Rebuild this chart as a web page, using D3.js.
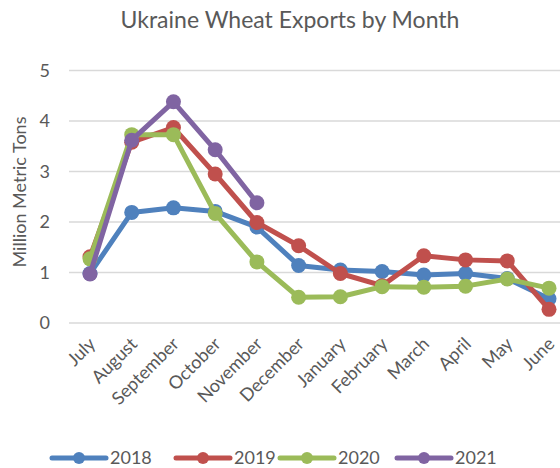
<!DOCTYPE html>
<html lang="en">
  <head>
    <meta charset="UTF-8" />
    <title>Ukraine Wheat Exports by Month</title>
    <style>
      body { margin: 0; background: #fff; }
      text { font-family: Lato, "Open Sans", sans-serif; fill: #595959; }
    </style>
  </head>
  <body>
    <div id="chart"></div>

    <script src="https://d3js.org/d3.v7.min.js"></script>
    <script>
      // data, million metric tons
      const months = ["July", "August", "September", "October", "November", "December",
        "January", "February", "March", "April", "May", "June"];
      const years = ["2018", "2019", "2020", "2021"];
      const v2018 = [0.98, 2.19, 2.28, 2.21, 1.9, 1.14, 1.05, 1.02, 0.95, 0.98, 0.88, 0.48];
      const v2019 = [1.31, 3.58, 3.87, 2.95, 1.99, 1.53, 0.98, 0.74, 1.33, 1.25, 1.23, 0.27];
      const v2020 = [1.27, 3.73, 3.73, 2.17, 1.21, 0.51, 0.52, 0.72, 0.71, 0.73, 0.87, 0.69];
      const v2021 = [0.97, 3.62, 4.38, 3.43, 2.38];
      const yTicks = [0, 1, 2, 3, 4, 5];
      const colors = ["#4f81bd", "#c0504d", "#9bbb59", "#8064a2"];

      const series = [v2018, v2019, v2020, v2021];

      const w = 560;
      const h = 468;

      const svg = d3
        .select("#chart")
        .append("svg")
        .attr("width", w)
        .attr("height", h);

      // x: points in the middle of 12 equal slots
      const xScale = d3
        .scalePoint()
        .domain(months)
        .range([90, 549]);

      const yScale = d3
        .scaleLinear()
        .domain([0, 5])
        .range([323, 70.5]);

      // title
      svg
        .append("text")
        .attr("x", 290)
        .attr("y", 28)
        .attr("text-anchor", "middle")
        .style("font-size", "23px")
        .text("Ukraine Wheat Exports by Month");

      // gridlines
      svg
        .append("g")
        .selectAll("line")
        .data(yTicks)
        .enter()
        .append("line")
        .attr("x1", 69)
        .attr("x2", w)
        .attr("y1", (d) => yScale(d))
        .attr("y2", (d) => yScale(d))
        .attr("stroke", "#d9d9d9")
        .attr("stroke-width", 1.5);

      // y axis labels
      svg
        .append("g")
        .attr("transform", "translate(50, 0)")
        .call(
          d3.axisLeft(yScale).tickValues(yTicks).tickFormat(d3.format("d")).tickSize(0).tickPadding(0)
        )
        .call((g) => g.select(".domain").remove())
        .selectAll("text")
        .style("font-size", "18px")
        .attr("fill", "#595959");

      // x axis labels
      svg
        .append("g")
        .attr("transform", "translate(0, 323)")
        .call(d3.axisBottom(xScale).tickSize(0))
        .call((g) => g.select(".domain").remove())
        .selectAll("text")
        .style("font-size", "18px")
        .attr("fill", "#595959")
        .attr("text-anchor", "end")
        .attr("dx", "0")
        .attr("dy", "0")
        .attr("transform", "translate(4, 20) rotate(-45)");

      // y axis title
      svg
        .append("text")
        .attr("transform", "translate(26, 192) rotate(-90)")
        .attr("text-anchor", "middle")
        .style("font-size", "18px")
        .text("Million Metric Tons");

      const line = d3
        .line()
        .x((d, i) => xScale(months[i]))
        .y((d) => yScale(d));

      series.forEach((vals, k) => {
        const g = svg.append("g");
        g.append("path")
          .datum(vals)
          .attr("d", line)
          .attr("fill", "none")
          .attr("stroke", colors[k])
          .attr("stroke-width", 5)
          .attr("stroke-linejoin", "round");
        g.selectAll("circle")
          .data(vals)
          .enter()
          .append("circle")
          .attr("cx", (d, i) => xScale(months[i]))
          .attr("cy", (d) => yScale(d))
          .attr("r", 7.5)
          .attr("fill", colors[k]);
      });

      // legend
      const legendX = [52, 176, 280, 397];
      const legend = svg
        .append("g")
        .selectAll("g")
        .data(years)
        .enter()
        .append("g")
        .attr("transform", (d, i) => `translate(${legendX[i]}, 458)`);
      legend
        .append("line")
        .attr("x1", 0)
        .attr("x2", 54)
        .attr("stroke", (d, i) => colors[i])
        .attr("stroke-width", 5)
        .attr("stroke-linecap", "round");
      legend
        .append("circle")
        .attr("cx", 27)
        .attr("r", 6)
        .attr("fill", (d, i) => colors[i]);
      legend
        .append("text")
        .attr("x", 58)
        .attr("y", 6)
        .style("font-size", "18px")
        .text((d) => d);
    </script>
  </body>
</html>
